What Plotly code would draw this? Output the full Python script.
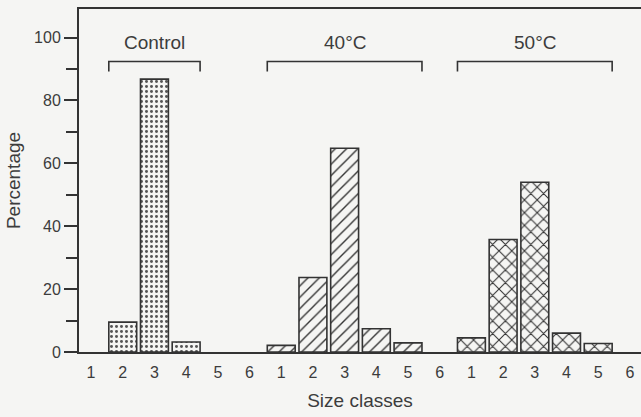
import plotly.graph_objects as go

# ---- data ----
groups = ["Control", "40°C", "50°C"]
size_classes = ["1", "2", "3", "4", "5", "6"]
control = [0, 9.5, 86.8, 3.2, 0, 0]
temp40 = [2.1, 23.7, 64.8, 7.4, 2.9, 0]
temp50 = [4.5, 35.8, 54.0, 6.0, 2.7, 0]
bracket_first = [2, 1, 1]   # first size class covered by bracket
bracket_last = [4, 5, 5]    # last size class covered by bracket
y_ticks = [0, 20, 40, 60, 80, 100]

# ---- style ----
BG = "#f5f5f3"
INK = "#333333"
TXT = "#3c3c3c"
FONT = "Liberation Sans, Arial, sans-serif"
TITLE_SIZE = 19
TICK_SIZE = 16
BAR_W = 0.88
patterns = [
    dict(shape=".", size=5, solidity=0.28, fgcolor="#555555", bgcolor=BG, fillmode="replace"),
    dict(shape="/", size=8, solidity=0.17, fgcolor=INK, bgcolor=BG, fillmode="replace"),
    dict(shape="x", size=9, solidity=0.22, fgcolor=INK, bgcolor=BG, fillmode="replace"),
]

series = [control, temp40, temp50]
n = len(size_classes)

fig = go.Figure()
for gi, (name, vals) in enumerate(zip(groups, series)):
    xs = [gi * n + k for k in range(n)]
    fig.add_trace(go.Bar(
        x=xs, y=vals, name=name, width=BAR_W,
        marker=dict(color=BG,
                    line=dict(color=INK, width=[1.6 if v > 0 else 0 for v in vals]),
                    pattern=patterns[gi]),
        showlegend=False, hoverinfo="skip",
    ))

tickvals = [gi * n + k for gi in range(len(groups)) for k in range(n)]
ticktext = [size_classes[k] for gi in range(len(groups)) for k in range(n)]

BR_Y = 92.4
BR_DROP = 3.2
for gi, name in enumerate(groups):
    x0 = gi * n + (bracket_first[gi] - 1) - BAR_W / 2
    x1 = gi * n + (bracket_last[gi] - 1) + BAR_W / 2
    fig.add_shape(
        type="path", xref="x", yref="y",
        path=f"M {x0} {BR_Y - BR_DROP} L {x0} {BR_Y} L {x1} {BR_Y} L {x1} {BR_Y - BR_DROP}",
        line=dict(color=INK, width=1.6),
    )
    fig.add_annotation(
        x=(x0 + x1) / 2, y=98.6, xref="x", yref="y", text=name,
        showarrow=False, font=dict(family=FONT, size=TITLE_SIZE, color=TXT),
    )

fig.update_layout(
    width=641, height=417,
    margin=dict(l=79, r=0, t=9, b=65),
    paper_bgcolor=BG, plot_bgcolor=BG,
    font=dict(family=FONT, size=TICK_SIZE, color=TXT),
    bargap=0,
)
fig.update_xaxes(
    range=[-0.38, 17.35], automargin=False,
    tickvals=tickvals, ticktext=ticktext,
    showgrid=False, zeroline=False,
    showline=True, linecolor=INK, linewidth=2, mirror=True,
    ticks="", ticklabelstandoff=5,
    tickfont=dict(family=FONT, size=TICK_SIZE, color=TXT),
    title=dict(text="Size classes", standoff=13, font=dict(family=FONT, size=TITLE_SIZE, color=TXT)),
)
fig.update_yaxes(
    range=[0, 109.1], automargin=False,
    tickvals=y_ticks,
    showgrid=False, zeroline=False,
    showline=True, linecolor=INK, linewidth=2,
    ticks="outside", ticklen=13, tickwidth=2, tickcolor=INK,
    minor=dict(dtick=10, tick0=0, ticks="outside", ticklen=11, tickwidth=2, tickcolor=INK, showgrid=False),
    tickfont=dict(family=FONT, size=TICK_SIZE, color=TXT),
    title=dict(text="Percentage", standoff=8, font=dict(family=FONT, size=TITLE_SIZE, color=TXT)),
)

fig.write_html(
    "out.html",
    config={"displayModeBar": False, "staticPlot": True},
    post_script="document.body.style.margin='0';document.body.style.background='" + BG + "';",
)
